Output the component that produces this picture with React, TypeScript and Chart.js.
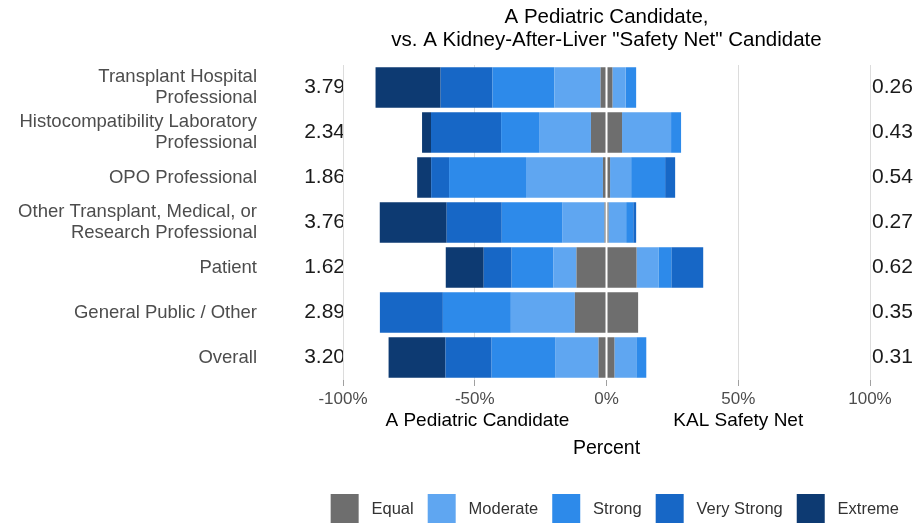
import React, { useEffect, useRef } from "react";
import { Chart, registerables } from "chart.js";

Chart.register(...registerables);

const categories: (string | string[])[] = [
  ["Transplant Hospital", "Professional"],
  ["Histocompatibility Laboratory", "Professional"],
  "OPO Professional",
  ["Other Transplant, Medical, or", "Research Professional"],
  "Patient",
  "General Public / Other",
  "Overall",
];

const leftRatios = ["3.79", "2.34", "1.86", "3.76", "1.62", "2.89", "3.20"];
const rightRatios = ["0.26", "0.43", "0.54", "0.27", "0.62", "0.35", "0.31"];

// Percent favouring "A Pediatric Candidate" (left side)
const extremeLeft = [24.7, 3.4, 5.3, 25.4, 14.4, 0, 21.6];
const veryStrongLeft = [19.7, 26.6, 6.8, 20.9, 10.6, 23.9, 17.5];
const strongLeft = [23.5, 14.4, 29.2, 23.1, 15.9, 25.8, 24.3];
const moderateLeft = [17.5, 19.7, 29.2, 15.9, 8.7, 24.3, 16.3];
// Percent "Equal" (split half to each side)
const equalAll = [4.5, 11.8, 2.7, 1.5, 22.8, 24.0, 6.0];
// Percent favouring "KAL Safety Net" (right side)
const moderateRight = [5.0, 18.6, 8.0, 6.7, 8.3, 0, 8.3];
const strongRight = [4.0, 3.8, 12.9, 2.7, 4.9, 0, 3.8];
const veryStrongRight = [0, 0, 3.8, 1.1, 12.1, 0, 0];
const extremeRight = [0, 0, 0, 0, 0, 0, 0];

const xTicks = [-100, -50, 0, 50, 100];
const titleLines = ["A Pediatric Candidate,", 'vs. A Kidney-After-Liver "Safety Net" Candidate'];
const sideLabels = [
  { text: "A Pediatric Candidate", at: -49 },
  { text: "KAL Safety Net", at: 50 },
];

const COLORS = {
  equal: "#6e6e6e",
  moderate: "#5fa6f1",
  strong: "#2d8aea",
  veryStrong: "#1767c6",
  extreme: "#0d3a72",
};

const FONT = '"Liberation Sans", Arial, Helvetica, sans-serif';

export default function App() {
  const canvasRef = useRef<HTMLCanvasElement | null>(null);

  useEffect(() => {
    document.body.style.margin = "0";
    const canvas = canvasRef.current;
    if (!canvas) return;

    const neg = (a: number[]) => a.map((v) => -v);
    const half = (a: number[], s: number) => a.map((v) => (s * v) / 2);

    const mk = (label: string, data: number[], color: string) => ({
      label,
      data,
      backgroundColor: color,
      borderWidth: 0,
      stack: "s",
      categoryPercentage: 0.9,
      barPercentage: 1.0,
    });

    const extras = {
      id: "extras",
      afterDatasetsDraw(chart: any) {
        const { ctx, chartArea, scales } = chart;
        const x0 = scales.x.getPixelForValue(0);
        ctx.save();
        ctx.strokeStyle = "#ffffff";
        ctx.lineWidth = 2;
        ctx.beginPath();
        ctx.moveTo(x0, chartArea.top);
        ctx.lineTo(x0, chartArea.bottom);
        ctx.stroke();
        ctx.restore();
      },
      afterDraw(chart: any) {
        const { ctx, chartArea, scales } = chart;
        const cx = (chartArea.left + chartArea.right) / 2;
        ctx.save();
        ctx.fillStyle = "#000000";
        ctx.font = `20.5px ${FONT}`;
        ctx.textAlign = "center";
        ctx.textBaseline = "middle";
        ctx.fillText(titleLines[0], cx, 17);
        ctx.fillText(titleLines[1], cx, 40);

        ctx.font = `19px ${FONT}`;
        sideLabels.forEach((s) => {
          ctx.fillText(s.text, scales.x.getPixelForValue(s.at), 421);
        });
        ctx.restore();
      },
    };

    const defaultGen = (Chart as any).defaults.plugins.legend.labels.generateLabels;

    const chart = new Chart(canvas, {
      type: "bar",
      data: {
        labels: categories as any,
        datasets: [
          mk("Equal", half(equalAll, -1), COLORS.equal),
          mk("Moderate", neg(moderateLeft), COLORS.moderate),
          mk("Strong", neg(strongLeft), COLORS.strong),
          mk("Very Strong", neg(veryStrongLeft), COLORS.veryStrong),
          mk("Extreme", neg(extremeLeft), COLORS.extreme),
          mk("Equal R", half(equalAll, 1), COLORS.equal),
          mk("Moderate R", moderateRight, COLORS.moderate),
          mk("Strong R", strongRight, COLORS.strong),
          mk("Very Strong R", veryStrongRight, COLORS.veryStrong),
          mk("Extreme R", extremeRight, COLORS.extreme),
        ],
      },
      options: {
        indexAxis: "y",
        responsive: false,
        animation: false,
        layout: { padding: { top: 65, right: 4, left: 0, bottom: -11 } },
        scales: {
          x: {
            type: "linear",
            min: -100,
            max: 100,
            stacked: true,
            afterBuildTicks: (s: any) => {
              s.ticks = xTicks.map((v) => ({ value: v }));
            },
            afterFit: (s: any) => {
              s.height = 100;
            },
            grid: {
              color: "#dcdcdc",
              lineWidth: 1,
              drawTicks: true,
              tickLength: 6,
              tickColor: "#a0a0a0",
            },
            border: { display: false },
            ticks: {
              padding: 3,
              color: "#4d4d4d",
              font: { family: FONT, size: 17 },
              callback: (v: any) => `${v}%`,
            },
            title: {
              display: true,
              text: "Percent",
              color: "#000000",
              font: { family: FONT, size: 19.5 },
              padding: { top: 4, bottom: 20 },
            },
          },
          y: {
            type: "category",
            stacked: true,
            offset: true,
            position: "left",
            weight: 1,
            afterFit: (s: any) => {
              s.width = 259;
            },
            grid: { display: false, drawTicks: false },
            border: { display: false },
            ticks: {
              autoSkip: false,
              padding: 2,
              color: "#4d4d4d",
              font: { family: FONT, size: 18.5, lineHeight: 1.14 },
            },
          },
          yL: {
            type: "category",
            labels: leftRatios,
            offset: true,
            position: "left",
            weight: 0,
            afterFit: (s: any) => {
              s.width = 84;
            },
            grid: { display: false, drawTicks: false },
            border: { display: false },
            ticks: {
              autoSkip: false,
              padding: -2,
              color: "#1a1a1a",
              font: { family: FONT, size: 21 },
            },
          },
          y2: {
            type: "category",
            labels: rightRatios,
            offset: true,
            position: "right",
            afterFit: (s: any) => {
              s.width = 43;
            },
            grid: { display: false, drawTicks: false },
            border: { display: false },
            ticks: {
              autoSkip: false,
              padding: 2,
              color: "#1a1a1a",
              font: { family: FONT, size: 21 },
            },
          },
        },
        plugins: {
          title: { display: false },
          tooltip: { enabled: false },
          legend: {
            display: true,
            position: "bottom",
            align: "end",
            labels: {
              generateLabels: (c: any) =>
                defaultGen(c)
                  .filter((it: any) => it.datasetIndex < 5)
                  .map((it: any) => ({ ...it, text: " " + it.text })),
              boxWidth: 28,
              boxHeight: 30,
              padding: 14,
              color: "#333333",
              font: { family: FONT, size: 16.5 },
            },
          },
        },
      } as any,
      plugins: [extras],
    });

    return () => {
      chart.destroy();
    };
  }, []);

  return (
    <div style={{ width: 917, height: 523 }}>
      <canvas ref={canvasRef} width={917} height={523} />
    </div>
  );
}
